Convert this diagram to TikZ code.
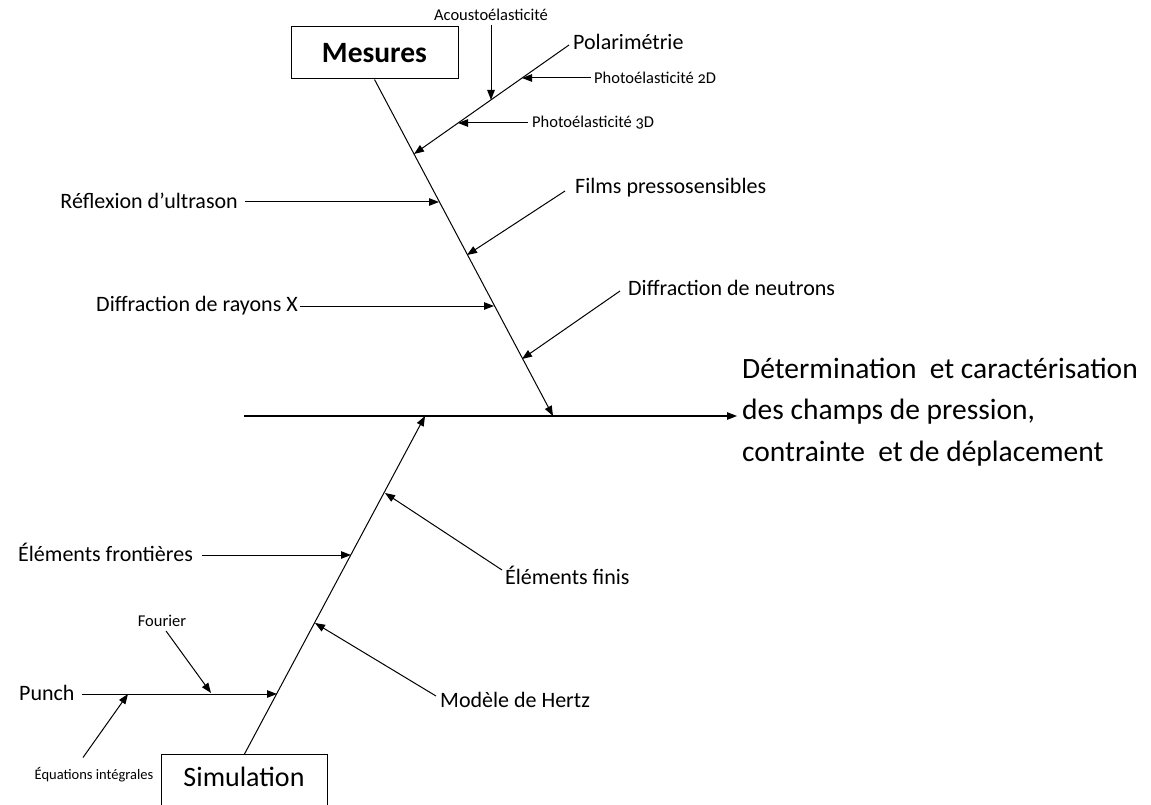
\documentclass[tikz,border=0pt]{standalone}
\usepackage{fontspec}
\setmainfont{Carlito}[Numbers=OldStyle]
\usetikzlibrary{arrows.meta}
\tikzset{
  conn/.style={line width=1pt, -{Triangle[length=10pt,width=7.5pt]}},
  lbl/.style={inner sep=0pt, font=\fontsize{22}{26}\selectfont},
  smalllbl/.style={inner sep=0pt, font=\fontsize{16.5}{19}\selectfont},
  titlebox/.style={draw, line width=1pt, inner sep=0pt},
}
\begin{document}
\begin{tikzpicture}[x=1pt,y=-1pt]
\useasboundingbox (0,0) rectangle (1151,805);
\clip (0,0) rectangle (1151,805);

% boxes
\node[titlebox, minimum width=167pt, minimum height=52pt, font=\fontsize{29.5}{33}\selectfont\bfseries] (mes) at (374.5,53) {Mesures};
\node[titlebox, anchor=north west, minimum width=166pt, minimum height=70pt] (simbox) at (161,754) {};
\node[inner sep=0pt, font=\fontsize{28}{32}\selectfont] (sim) at (244,777) {Simulation};

% main axis
\coordinate (ms) at (244,416);
\coordinate (me) at (737,416);
\node[inner sep=0pt, anchor=west, align=left, font=\fontsize{29.5}{41.5}\selectfont] (res) at (742,412)
  {Détermination\hspace{0.45em}et caractérisation\\des champs de pression,\\contrainte\hspace{0.45em}et de déplacement};
\draw[line width=1.3pt, -{Triangle[length=10pt,width=7.5pt]}] (ms) -- (me);

% Mesures spine
\coordinate (mtip) at (553,416);
\draw[conn] (mes.south) -- (mtip);

\coordinate (tPol) at (414,154);
\coordinate (tRef) at (439,202);
\coordinate (tFil) at (467,255);
\coordinate (tDrx) at (494,306);
\coordinate (tNeu) at (522,359);

% Polarimetrie sub-branch
\node[lbl, anchor=west] (pol) at (573,42) {Polarimétrie};
\coordinate (polS) at (569,45);
\draw[conn] (polS) -- (tPol);

\node[smalllbl] (aco) at (491,15) {Acoustoélasticité};
\coordinate (tAco) at (491,100);
\draw[conn] (aco.south) ++(0,4) -- (tAco);

\node[smalllbl, anchor=west] (ph2) at (594,78) {Photoélasticité 2D};
\coordinate (tPh2) at (522,78);
\draw[conn] (ph2.west) ++(-3,0) -- (tPh2);

\node[smalllbl, anchor=west] (ph3) at (532,123) {Photoélasticité 3D};
\coordinate (tPh3) at (458,123);
\draw[conn] (ph3.west) ++(-4,0) -- (tPh3);

% other Mesures branches
\node[lbl, anchor=east] (ref) at (238,201) {Réflexion d’ultrason};
\draw[conn] (ref.east) ++(7,1) -- (tRef);

\node[lbl, anchor=east] (drx) at (298,306) {Diffraction de rayons X};
\draw[conn] (drx.east) ++(2,0) -- (tDrx);

\node[lbl, anchor=west] (fil) at (575,188) {Films pressosensibles};
\coordinate (filS) at (565,191);
\draw[conn] (filS) -- (tFil);

\node[lbl, anchor=west] (neu) at (628,288) {Diffraction de neutrons};
\coordinate (neuS) at (620,291);
\draw[conn] (neuS) -- (tNeu);

% Simulation spine
\coordinate (stip) at (425,416);
\draw[conn] (simbox.north) -- (stip);

\coordinate (tPun) at (277,694);
\coordinate (tHer) at (315,623);
\coordinate (tFro) at (351,555);
\coordinate (tFin) at (385,493);

\node[lbl, anchor=west] (fro) at (18,552) {Éléments frontières};
\draw[conn] (fro.east) ++(9,3) -- (tFro);

\node[lbl, anchor=west] (fin) at (505,575) {Éléments finis};
\coordinate (finS) at (502,570);
\draw[conn] (finS) -- (tFin);

\node[lbl, anchor=west] (her) at (440,700) {Modèle de Hertz};
\coordinate (herS) at (436,696);
\draw[conn] (herS) -- (tHer);

\node[lbl, anchor=west] (pun) at (19,693) {Punch};
\draw[conn] (pun.east) ++(7,1) -- (tPun);

\coordinate (tFou) at (211,693);
\coordinate (tEqu) at (128,694);
\node[smalllbl] (fou) at (162,621) {Fourier};
\draw[conn] (fou.south) ++(4,4) -- (tFou);

\node[smalllbl, font=\fontsize{14.5}{17}\selectfont] (equ) at (94,775) {Équations intégrales};
\draw[conn] (equ.north) ++(-11,-10) -- (tEqu);
\end{tikzpicture}
\end{document}
